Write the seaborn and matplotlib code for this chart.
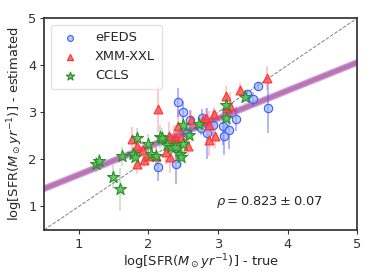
import numpy as np
import pandas as pd
import matplotlib
matplotlib.use('Agg')
import matplotlib.pyplot as plt
import seaborn as sns

# ── DATA ────────────────────────────────────────────────────────────────────
efeds_true = [2.14, 2.39, 2.42, 2.50, 2.56, 2.60, 2.75, 2.77, 2.84, 2.93, 3.07, 3.08, 3.16, 3.26, 3.41, 3.50, 3.57, 3.72]
efeds_est  = [1.84, 1.89, 3.21, 3.00, 2.56, 2.84, 2.67, 2.87, 2.55, 2.72, 2.70, 2.49, 2.63, 2.86, 3.38, 3.28, 3.55, 3.10]
efeds_err  = [0.30, 0.42, 0.30, 0.25, 0.20, 0.20, 0.15, 0.20, 0.55, 0.30, 0.40, 0.40, 0.40, 0.25, 0.10, 0.15, 0.10, 0.55]

xxl_true = [2.14, 1.76, 1.83, 1.84, 1.92, 1.93, 1.99, 2.11, 2.25, 2.30, 2.31, 2.37, 2.40, 2.42, 2.47,
            2.57, 2.61, 2.78, 2.83, 2.87, 2.87, 2.94, 2.95, 3.11, 3.13, 3.17, 3.31, 3.71]
xxl_est  = [3.08, 2.44, 2.28, 1.89, 2.19, 1.99, 2.08, 2.06, 2.16, 2.49, 2.05, 2.44, 2.44, 2.71, 2.48,
            2.28, 2.84, 2.84, 2.87, 2.72, 2.42, 2.96, 2.50, 3.35, 3.10, 3.13, 3.48, 3.73]
xxl_err  = [0.50, 0.25, 0.25, 0.20, 0.20, 0.15, 0.20, 0.20, 0.25, 0.30, 0.35, 0.30, 0.30, 0.35, 0.25,
            0.20, 0.20, 0.15, 0.20, 0.30, 0.35, 0.15, 0.25, 0.20, 0.30, 0.30, 0.15, 0.25]

ccls_true = [1.25, 1.29, 1.49, 1.59, 1.62, 1.78, 1.81, 1.84, 1.99, 2.03, 2.11, 2.16, 2.20, 2.26, 2.33,
             2.38, 2.45, 2.47, 2.50, 2.49, 2.58, 2.73, 3.12, 3.11, 3.39]
ccls_est  = [1.89, 1.96, 1.62, 1.36, 2.06, 2.11, 2.05, 2.46, 2.33, 2.11, 2.06, 2.48, 2.46, 2.31, 2.26,
             2.26, 2.12, 2.05, 2.33, 2.74, 2.51, 2.76, 2.87, 3.15, 3.33]
ccls_err  = [0.15, 0.15, 0.25, 0.45, 0.20, 0.15, 0.20, 0.20, 0.20, 0.15, 0.20, 0.25, 0.20, 0.20, 0.20,
             0.25, 0.30, 0.20, 0.20, 0.20, 0.20, 0.15, 0.20, 0.15, 0.15]

SURVEYS = ["eFEDS", "XMM-XXL", "CCLS"]
FIT_SLOPE     = 0.596
FIT_INTERCEPT = 1.078
RHO, RHO_ERR  = 0.823, 0.07

FS = 9.4

# ── STYLE ───────────────────────────────────────────────────────────────────
sns.set_theme(style="ticks", rc={"axes.edgecolor": "#333333", "xtick.color": "#333333",
                                 "ytick.color": "#333333"})
plt.rcParams['font.family'] = ['DejaVu Sans']
plt.rcParams['font.size'] = FS

styles = {
    "eFEDS":   dict(marker="o", face=(0.55, 0.68, 1.0, 0.6), edge="#3d5cf0", ecol=(0.3, 0.3, 1.0, 0.5), s=36),
    "XMM-XXL": dict(marker="^", face=(1.0, 0.3, 0.3, 0.8), edge="#ff3030", ecol=(1.0, 0.3, 0.3, 0.35), s=40),
    "CCLS":    dict(marker="*", face=(0.35, 0.78, 0.35, 0.9), edge="#2a8c2a", ecol=(0.3, 0.7, 0.3, 0.35), s=80),
}
data = {
    "eFEDS":   (efeds_true, efeds_est, efeds_err),
    "XMM-XXL": (xxl_true, xxl_est, xxl_err),
    "CCLS":    (ccls_true, ccls_est, ccls_err),
}

fig, ax = plt.subplots(figsize=(3.74, 2.8), dpi=100)
fig.subplots_adjust(left=0.118, right=0.955, top=0.935, bottom=0.179)

# one-to-one line
ax.plot([0.5, 5], [0.5, 5], ls="--", color="gray", lw=0.7, zorder=1)

# fit band
xfit = np.array([0.5, 5.0])
yfit = FIT_SLOPE * xfit + FIT_INTERCEPT
fit_df = pd.DataFrame({"x": xfit, "y": yfit})
sns.lineplot(data=fit_df, x="x", y="y", ax=ax, color="purple", lw=5.0, alpha=0.35, zorder=2)
sns.lineplot(data=fit_df, x="x", y="y", ax=ax, color="purple", lw=3.2, alpha=0.3, zorder=2)

for name in SURVEYS:
    xt, ye, er = data[name]
    st = styles[name]
    ax.errorbar(xt, ye, yerr=er, fmt="none", ecolor=st["ecol"], elinewidth=1.2, zorder=3)
    df = pd.DataFrame({"true": xt, "est": ye})
    sns.scatterplot(data=df, x="true", y="est", ax=ax, marker=st["marker"], s=st["s"],
                    color=st["face"], edgecolor=st["edge"], linewidth=0.8, label=name, zorder=4)

ax.text(2.97, 1.09, rf"$\rho = {RHO:.3f} \pm {RHO_ERR:.2f}$", fontsize=FS, va="center", ha="left")

ax.set_xlim(0.5, 5)
ax.set_ylim(0.5, 5)
ax.set_xticks([1, 2, 3, 4, 5])
ax.set_yticks([1, 2, 3, 4, 5])
ax.tick_params(labelsize=FS, length=3, width=0.8, pad=2.5)
ax.set_xlabel(r"log[SFR($M_\odot yr^{-1}$)] - true", fontsize=FS, labelpad=1)
ax.set_ylabel(r"log[SFR($M_\odot yr^{-1}$)] - estimated", fontsize=FS, labelpad=2)

leg = ax.legend(loc="upper left", fontsize=FS, markerscale=0.7, handletextpad=0.9,
                borderpad=0.5, labelspacing=0.45, frameon=True, borderaxespad=0.5)
leg.get_frame().set_edgecolor("#dddddd")

plt.savefig("out.png", dpi=100)
plt.close()
